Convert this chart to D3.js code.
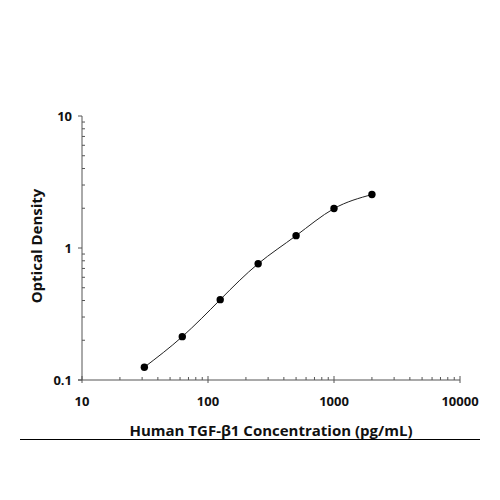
<!DOCTYPE html>
<html><head><meta charset="utf-8">
<script src="https://cdn.jsdelivr.net/npm/d3@7"></script>
<style>body{margin:0;background:#fff}svg{display:block}text{font-family:"Open Sans",sans-serif;font-weight:700;fill:#111}</style>
</head><body>
<svg id="c" width="500" height="500"></svg>
<script>
const concentrations = [31.25, 62.5, 125, 250, 500, 1000, 2000];
const opticalDensity = [0.125, 0.213, 0.406, 0.76, 1.24, 1.99, 2.54];
const xTickValues = [10, 100, 1000, 10000];
const yTickValues = [0.1, 1, 10];
const xTitle = "Human TGF-β1 Concentration (pg/mL)";
const yTitle = "Optical Density";

const svg = d3.select("#c");
const x = d3.scaleLog().domain([10, 10000]).range([82, 460]);
const y = d3.scaleLog().domain([0.1, 10]).range([380, 116]);
const axisColor = "#555";

// minor ticks
const xMinor = [];
for (let d = 10; d < 10000; d *= 10) for (let k = 2; k <= 9; k++) xMinor.push(d * k);
const yMinor = [];
for (let d = 0.1; d < 10; d *= 10) for (let k = 2; k <= 9; k++) yMinor.push(d * k);

const gx = svg.append("g");
gx.append("line").attr("x1", x(10) - 4).attr("x2", x(10000)).attr("y1", y(0.1)).attr("y2", y(0.1)).attr("stroke", axisColor);
gx.selectAll(".mn").data(xMinor).join("line").attr("x1", d => x(d)).attr("x2", d => x(d)).attr("y1", y(0.1)).attr("y2", y(0.1) - 3).attr("stroke", axisColor);
gx.selectAll(".mj").data(xTickValues).join("line").attr("x1", d => x(d)).attr("x2", d => x(d)).attr("y1", y(0.1) - 4).attr("y2", y(0.1) + 3).attr("stroke", axisColor);
gx.selectAll("text").data(xTickValues).join("text").attr("x", d => x(d)).attr("y", 406).attr("text-anchor", "middle").attr("font-size", 13).text(d => d);

const gy = svg.append("g");
gy.append("line").attr("x1", x(10)).attr("x2", x(10)).attr("y1", y(0.1)).attr("y2", y(10)).attr("stroke", axisColor);
gy.selectAll(".mn").data(yMinor).join("line").attr("x1", x(10)).attr("x2", x(10) + 3).attr("y1", d => y(d)).attr("y2", d => y(d)).attr("stroke", axisColor);
gy.selectAll(".mj").data(yTickValues).join("line").attr("x1", x(10) - 4).attr("x2", x(10)).attr("y1", d => y(d)).attr("y2", d => y(d)).attr("stroke", axisColor);
gy.selectAll("text").data(yTickValues).join("text").attr("x", 72).attr("y", d => y(d)).attr("dy", "0.35em").attr("text-anchor", "end").attr("font-size", 13).text(d => d);

const pts = concentrations.map((c, i) => [c, opticalDensity[i]]);
const line = d3.line().x(d => x(d[0])).y(d => y(d[1])).curve(d3.curveNatural);
svg.append("path").datum(pts).attr("d", line).attr("fill", "none").attr("stroke", "#222").attr("stroke-width", 1);
svg.selectAll("circle").data(pts).join("circle").attr("cx", d => x(d[0])).attr("cy", d => y(d[1])).attr("r", 3.7).attr("fill", "#000");

svg.append("text").attr("x", 271).attr("y", 436).attr("text-anchor", "middle").attr("font-size", 15).text(xTitle);
svg.append("text").attr("transform", "translate(42,246) rotate(-90)").attr("text-anchor", "middle").attr("font-size", 15).text(yTitle);
svg.append("line").attr("x1", 20).attr("x2", 480).attr("y1", 439.5).attr("y2", 439.5).attr("stroke", "#000").attr("stroke-width", 1.2);
</script>
</body></html>
